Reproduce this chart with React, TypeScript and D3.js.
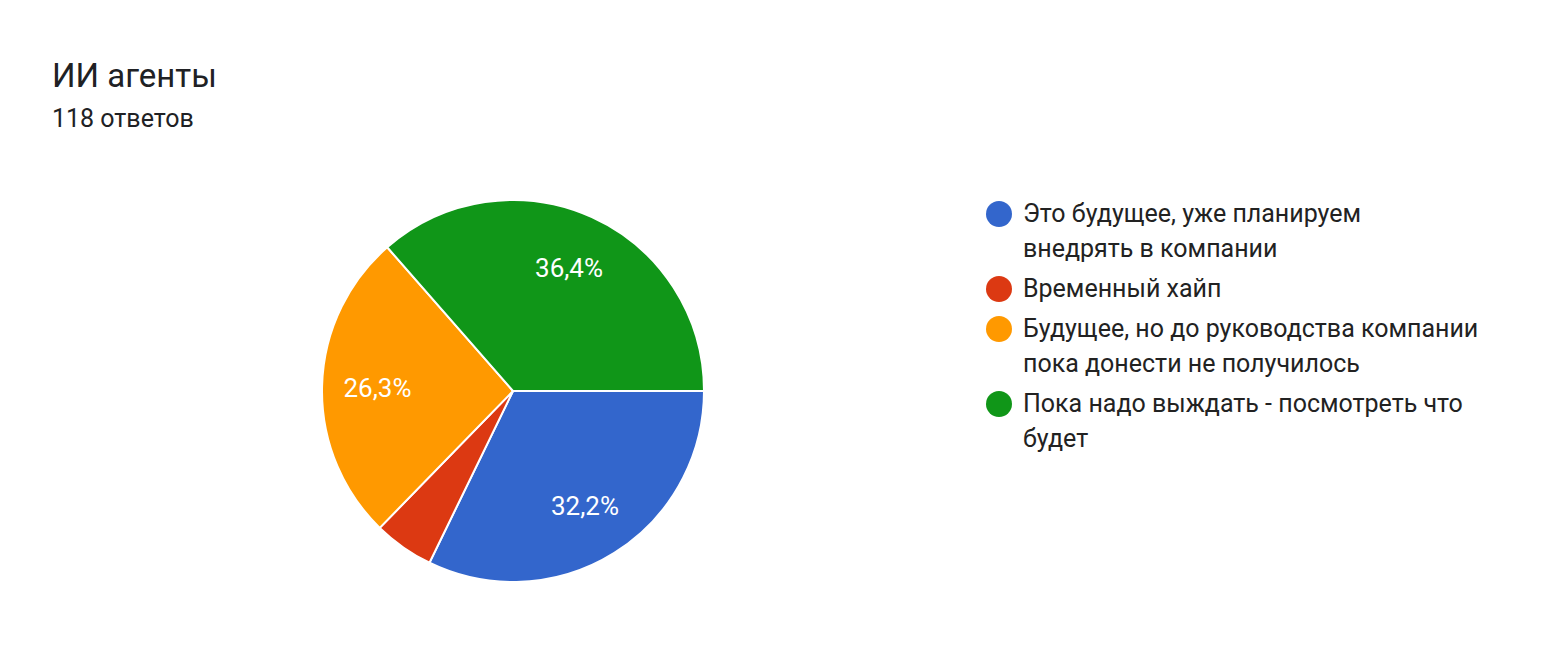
import * as d3 from "d3";

const title = "ИИ агенты";
const subtitle = "118 ответов";

const categories = [
  "Это будущее, уже планируем внедрять в компании",
  "Временный хайп",
  "Будущее, но до руководства компании пока донести не получилось",
  "Пока надо выждать - посмотреть что будет",
];
const legendLines = [
  ["Это будущее, уже планируем", "внедрять в компании"],
  ["Временный хайп"],
  ["Будущее, но до руководства компании", "пока донести не получилось"],
  ["Пока надо выждать - посмотреть что", "будет"],
];
const counts = [38, 6, 31, 43];
const colors = ["#3366cc", "#dc3912", "#ff9900", "#109618"];

const W = 1560;
const H = 656;
const cx = 513;
const cy = 391;
const radius = 191;
const font = "Roboto, 'Noto Sans', Arial, sans-serif";

export default function App() {
  const total = d3.sum(counts);
  const pie = d3
    .pie<number>()
    .sort(null)
    .startAngle(Math.PI / 2)
    .endAngle(Math.PI / 2 + 2 * Math.PI)(counts);

  const arc = d3.arc<d3.PieArcDatum<number>>().innerRadius(0).outerRadius(radius);
  const labelArc = d3
    .arc<d3.PieArcDatum<number>>()
    .innerRadius(radius * 0.71)
    .outerRadius(radius * 0.71);

  const fmt = (v: number) =>
    ((v / total) * 100).toFixed(1).replace(".", ",") + "%";

  // legend rows: y of first line for each entry
  let lineY = 222;
  const rows = legendLines.map((lines, i) => {
    const row = { y: lineY, lines, i };
    lineY += lines.length * 35 + 5;
    return row;
  });

  return (
    <svg
      width={W}
      height={H}
      style={{ position: "absolute", left: 0, top: 0, background: "#fff" }}
      fontFamily={font}
    >
      <text x={52} y={87} fontSize={33} fill="#202124">
        {title}
      </text>
      <text x={52} y={127} fontSize={25} fill="#202124">
        {subtitle}
      </text>

      <g transform={`translate(${cx},${cy})`}>
        {pie.map((d, i) => (
          <path
            key={categories[i]}
            d={arc(d) || undefined}
            fill={colors[i]}
            stroke="#fff"
            strokeWidth={2}
          />
        ))}
        {pie.map((d, i) => {
          if (d.value / total < 0.06) return null;
          const [lx, ly] = labelArc.centroid(d);
          return (
            <text
              key={"l" + i}
              x={lx}
              y={ly}
              dy="0.35em"
              textAnchor="middle"
              fontSize={26}
              fill="#fff"
            >
              {fmt(d.value)}
            </text>
          );
        })}
      </g>

      <g>
        {rows.map((r) => (
          <g key={categories[r.i]}>
            <circle cx={999} cy={r.y - 8} r={13} fill={colors[r.i]} />
            {r.lines.map((ln, j) => (
              <text
                key={j}
                x={1023}
                y={r.y + j * 35}
                fontSize={25}
                fill="#222222"
              >
                {ln}
              </text>
            ))}
          </g>
        ))}
      </g>
    </svg>
  );
}
